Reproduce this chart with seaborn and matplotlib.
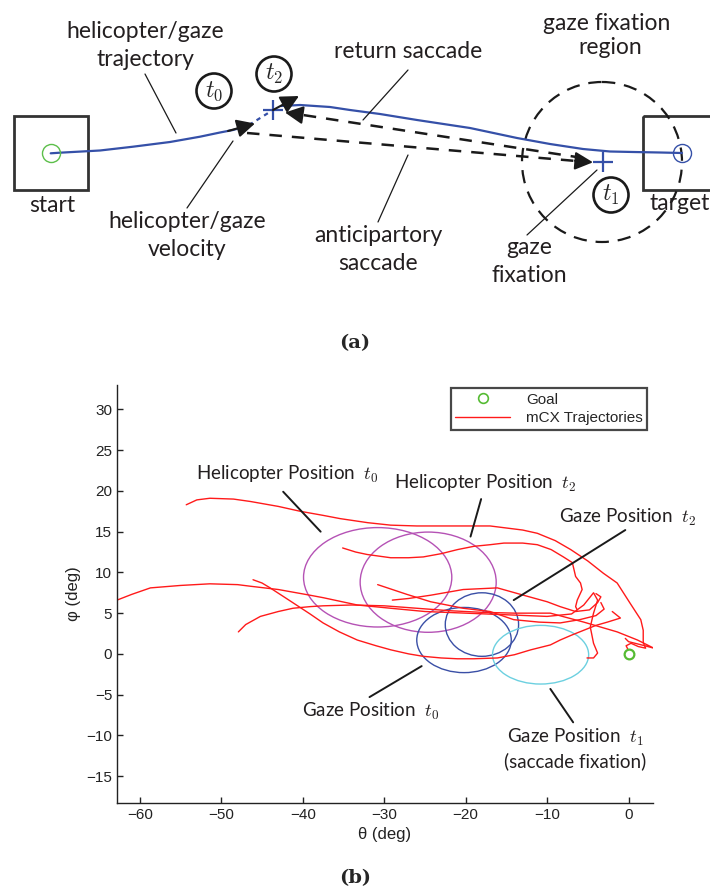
import numpy as np
import pandas as pd
import matplotlib
matplotlib.use("Agg")
import matplotlib.pyplot as plt
import seaborn as sns
from matplotlib.patches import Ellipse, Rectangle, Circle
from matplotlib.lines import Line2D

sns.set_theme(style="ticks")
plt.rcParams['font.family'] = ['Lato', 'DejaVu Sans']
plt.rcParams['mathtext.fontset'] = 'cm'

# ---------------- panel (b) data ----------------
A_theta = [-54.3, -53.0, -51.4, -48.5, -46.4, -43.0, -40.3, -37.5, -35.4, -32.0, -29.2, -26.0, -23.1, -20.0,
           -17.0, -15.4, -13.0, -11.2, -9.0, -7.1, -5.0, -3.1, -1.4, 0.2, 1.5, 1.8, 1.8, 2.1, 1.2, 0.3, -0.3, -0.1]
A_phi = [18.3, 18.9, 19.1, 19.0, 18.7, 18.1, 17.5, 17.0, 16.6, 16.1, 15.8, 15.7, 15.7, 15.7,
         15.7, 15.5, 15.2, 14.8, 13.9, 12.8, 11.4, 9.9, 8.7, 6.2, 4.2, 2.9, 1.4, 0.7, 0.9, 1.3, 1.0, 0.6]

B_theta = [-35.1, -33.5, -32.1, -29.2, -27.0, -25.2, -23.0, -21.0, -19.0, -17.0, -15.3, -13.0, -11.2,
           -9.5, -8.0, -6.9, -6.5, -5.9, -5.7, -6.3, -6.5, -6.3]
B_phi = [13.0, 12.5, 12.2, 11.8, 11.8, 11.9, 12.3, 12.8, 13.2, 13.4, 13.6, 13.6, 13.4,
         12.8, 11.9, 11.2, 9.5, 8.7, 7.9, 6.6, 5.8, 5.4]

C_theta = [-62.8, -61.0, -58.7, -55.0, -51.4, -48.0, -46.4, -43.0, -39.1, -37.5, -33.3, -29.2, -25.0,
           -20.0, -15.0, -10.0, -7.0, -5.5, -4.3, -3.8, -4.3, -4.7, -4.3, -3.8, -4.3, -5.1]
C_phi = [6.6, 7.3, 8.1, 8.4, 8.6, 8.5, 8.3, 7.9, 7.2, 6.9, 6.0, 5.6, 5.2,
         5.0, 4.8, 4.6, 4.9, 6.0, 7.5, 6.6, 5.0, 3.3, 1.3, 0.1, -0.5, -0.5]

D_theta = [-46.1, -45.0, -44.0, -42.0, -39.1, -37.5, -35.5, -33.3, -31.0, -29.2, -27.0, -25.2, -23.0,
           -21.0, -19.0, -16.1, -14.0, -12.0, -9.6, -8.4, -7.0, -5.5, -4.0, -2.6, -1.0, -2.0]
D_phi = [9.1, 8.7, 8.1, 6.8, 4.9, 3.8, 2.7, 1.7, 1.0, 0.5, 0.0, -0.3, -0.5,
         -0.6, -0.6, -0.5, -0.1, 0.5, 1.1, 1.7, 2.3, 2.9, 3.5, 3.9, 4.4, 5.2]

E_theta = [-47.9, -47.0, -45.2, -43.0, -41.2, -39.1, -37.5, -34.0, -30.0, -26.0, -22.0, -18.0, -14.0,
           -9.6, -5.5, -1.4, 1.1, 3.1, 2.0, 0.0, -0.4]
E_phi = [2.7, 3.6, 4.6, 5.2, 5.6, 5.8, 5.9, 6.0, 5.9, 5.6, 5.3, 5.1, 5.0,
         5.0, 3.9, 2.7, 1.7, 0.7, 1.0, 1.5, 1.9]

F_theta = [-30.8, -29.0, -27.2, -24.3, -20.3, -17.0, -14.1, -11.0, -8.4, -6.0, -4.0, -3.0, -3.4]
F_phi = [8.5, 7.9, 7.3, 6.4, 5.6, 5.2, 4.2, 3.9, 3.8, 4.2, 4.7, 5.5, 6.3]

G_theta = [-29.0, -27.0, -24.3, -20.3, -16.1, -12.9, -10.0, -8.4, -6.5, -4.8, -3.8, -3.4, -4.0]
G_phi = [6.6, 6.8, 7.2, 7.9, 8.1, 7.2, 6.4, 5.8, 5.2, 5.4, 6.3, 7.0, 7.4]

traj_names = ["A", "B", "C", "D", "E", "F", "G"]
traj_theta = [A_theta, B_theta, C_theta, D_theta, E_theta, F_theta, G_theta]
traj_phi = [A_phi, B_phi, C_phi, D_phi, E_phi, F_phi, G_phi]

ell_theta = [-30.8, -24.6, -20.2, -18.0, -10.8]
ell_phi = [9.4, 8.8, 1.7, 3.6, -0.1]
ell_width = [18.2, 16.7, 11.6, 9.0, 11.8]
ell_height = [12.2, 12.3, 8.0, 7.8, 7.2]
ell_colors = ["#b552b5", "#b552b5", "#3a4fa6", "#3a4fa6", "#6cd0e0"]

goal_theta = [0.0]
goal_phi = [0.0]

ann_text = ["Helicopter Position  $t_0$", "Helicopter Position  $t_2$", "Gaze Position  $t_2$",
            "Gaze Position  $t_0$", "Gaze Position  $t_1$\n(saccade fixation)"]
ann_text_xy = [(-41.9, 22.0), (-17.6, 20.9), (-0.1, 16.8), (-31.6, -7.0), (-6.5, -11.6)]
ann_line_start = [(-42.4, 19.9), (-18.1, 19.0), (-0.4, 15.2), (-31.8, -5.3), (-9.6, -4.3)]
ann_line_end = [(-37.8, 15.0), (-19.4, 14.4), (-14.1, 6.6), (-25.4, -1.5), (-6.8, -8.4)]

x_ticks = [-60, -50, -40, -30, -20, -10, 0]
y_ticks = [-15, -10, -5, 0, 5, 10, 15, 20, 25, 30]

# ---------------- panel (a) data (diagram coordinates, pixels) ----------------
traj_a_x = [50.7, 60, 100, 133, 170, 200, 220, 233, 247]
traj_a_y = [153.3, 152.7, 150.5, 146.7, 142, 136.7, 132.5, 130, 126]
dash_a_x = [249, 273]
dash_a_y = [125, 110]
ret_a_x = [281, 300, 330, 350, 380, 417, 470, 517, 550, 583, 610, 633, 660, 682]
ret_a_y = [106, 105, 107, 110, 114, 120, 128, 138, 144, 149, 151.5, 152, 152.5, 153]

fig = plt.figure(figsize=(7.10, 8.93), dpi=100)

# ================= panel (a) =================
axa = fig.add_axes([0, 1 - 360 / 893, 1, 360 / 893])
axa.set_xlim(0, 710)
axa.set_ylim(360, 0)
axa.axis('off')
blue = "#3550a8"
axa.add_patch(Rectangle((14, 116), 74, 74, fill=False, ec="#333333", lw=2))
axa.add_patch(Rectangle((643, 116), 74, 74, fill=False, ec="#333333", lw=2, clip_on=False))
axa.plot(traj_a_x, traj_a_y, color=blue, lw=1.6)
axa.plot(dash_a_x, dash_a_y, color=blue, lw=1.6, ls=(0, (2, 2)))
axa.plot(ret_a_x, ret_a_y, color=blue, lw=1.6)
axa.plot([50.7], [153.3], marker='o', ms=13, mfc='none', mec="#5cbf4a", mew=1)
axa.plot([682], [153], marker='o', ms=13, mfc='none', mec=blue, mew=1)
axa.plot([273, 603], [110, 162], ls='none', marker='+', ms=14, mec=blue, mew=1.6)
axa.add_patch(Circle((602, 162), 80, fill=False, ec='k', lw=1.6, ls=(0, (6, 4))))
# saccades (dashed) and arrowheads
axa.plot([247, 588], [133, 162], color='k', lw=1.8, ls=(0, (5, 4)))
axa.plot([583, 290], [158, 113], color='k', lw=1.8, ls=(0, (5, 4)))
ap = dict(arrowstyle='-|>,head_length=0.5,head_width=0.25', color='k', lw=1.5,
          mutation_scale=22, shrinkA=0, shrinkB=0)
axa.annotate('', xy=(593, 162.3), xytext=(575, 160.8), arrowprops=ap)
axa.annotate('', xy=(285, 112.5), xytext=(302, 115), arrowprops=ap)
axa.annotate('', xy=(255, 123.5), xytext=(228, 131), arrowprops=ap)
axa.annotate('', xy=(299, 96), xytext=(273, 110), arrowprops=ap)
for (cx, cy), lab in zip([(214, 91), (274, 74), (611, 195)], ["$t_0$", "$t_2$", "$t_1$"]):
    axa.add_patch(Circle((cx, cy), 17.5, fill=False, ec='k', lw=1.9))
    axa.text(cx, cy, lab, ha='center', va='center', fontsize=17)
tfs = 16.5
txtc = "#231f20"
axa.text(145, 32, "helicopter/gaze", ha='center', va='center', fontsize=tfs, color=txtc)
axa.text(145, 60, "trajectory", ha='center', va='center', fontsize=tfs, color=txtc)
axa.plot([145, 176], [74, 133], color='k', lw=0.9)
axa.text(52, 205, "start", ha='center', va='center', fontsize=tfs, color=txtc)
axa.text(187, 222, "helicopter/gaze", ha='center', va='center', fontsize=tfs, color=txtc)
axa.text(187, 249, "velocity", ha='center', va='center', fontsize=tfs, color=txtc)
axa.plot([187, 233], [208, 141], color='k', lw=0.9)
axa.text(408, 52, "return saccade", ha='center', va='center', fontsize=tfs, color=txtc)
axa.plot([408, 363], [70, 120], color='k', lw=0.9)
axa.text(378, 235, "anticipartory", ha='center', va='center', fontsize=tfs, color=txtc)
axa.text(378, 264, "saccade", ha='center', va='center', fontsize=tfs, color=txtc)
axa.plot([408, 378], [155, 222], color='k', lw=0.9)
axa.text(607, 23, "gaze fixation", ha='center', va='center', fontsize=tfs, color=txtc)
axa.text(610, 47, "region", ha='center', va='center', fontsize=tfs, color=txtc)
axa.text(529, 247, "gaze", ha='center', va='center', fontsize=tfs, color=txtc)
axa.text(529, 275, "fixation", ha='center', va='center', fontsize=tfs, color=txtc)
axa.plot([527, 597], [235, 170], color='k', lw=0.9)
axa.text(650, 203, "target", ha='left', va='center', fontsize=tfs, color=txtc)

fig.text(355 / 710, 1 - 343 / 893, "(a)", ha='center', va='center', fontsize=14,
         fontweight='bold', family=['DejaVu Serif'])

# ================= panel (b) =================
axb = fig.add_axes([117 / 710, 1 - 803 / 893, (653 - 117) / 710, (803 - 385) / 893])
rows = []
for name, th, ph in zip(traj_names, traj_theta, traj_phi):
    for i, (t, p) in enumerate(zip(th, ph)):
        rows.append((name, i, t, p))
df = pd.DataFrame(rows, columns=["traj", "order", "theta", "phi"])
sns.lineplot(data=df, x="theta", y="phi", units="traj", estimator=None, sort=False,
             color="#ff1a1a", lw=1.0, ax=axb, legend=False)

for cx, cy, w, h, c in zip(ell_theta, ell_phi, ell_width, ell_height, ell_colors):
    axb.add_patch(Ellipse((cx, cy), w, h, fill=False, ec=c, lw=1.0))

axb.plot(goal_theta, goal_phi, ls='none', marker='o', ms=7, mfc='none', mec="#55bb33", mew=1.6)

for txt, (tx, ty), (x0, y0), (x1, y1) in zip(ann_text, ann_text_xy, ann_line_start, ann_line_end):
    axb.plot([x0, x1], [y0, y1], color='#1a1a1a', lw=1.4, clip_on=False)
    axb.text(tx, ty, txt, ha='center', va='center', fontsize=13.5, color='#231f20',
             linespacing=1.25, clip_on=False)

axb.set_xlim(-62.8, 3.0)
axb.set_ylim(-18.3, 33.0)
axb.set_xticks(x_ticks)
axb.set_yticks(y_ticks)
sns.despine(ax=axb)
for s in ["left", "bottom"]:
    axb.spines[s].set_color("#222222")
    axb.spines[s].set_linewidth(1.0)
axb.tick_params(direction='in', length=4, width=1, colors="#222222", labelsize=11)
for lab in axb.get_xticklabels() + axb.get_yticklabels():
    lab.set_family(['Liberation Sans'])
axb.set_xlabel("θ (deg)", fontsize=12, family=['Liberation Sans'], color="#222222", labelpad=4)
axb.set_ylabel("φ (deg)", fontsize=12, family=['Liberation Sans'], color="#222222", labelpad=4)

handles = [Line2D([], [], ls='none', marker='o', ms=7, mfc='none', mec="#55bb33", mew=1.2),
           Line2D([], [], color="#ff1a1a", lw=1.0)]
leg = axb.legend(handles, ["Goal", "mCX Trajectories"], loc='upper right',
                 bbox_to_anchor=(0.989, 0.993), frameon=True, fancybox=False,
                 prop={'family': 'Liberation Sans', 'size': 11}, handlelength=3.6,
                 handletextpad=1.0, borderpad=0.3, labelspacing=0.3, borderaxespad=0)
leg.get_frame().set_edgecolor('k')
leg.get_frame().set_linewidth(1.6)

fig.text(355 / 710, 1 - 878 / 893, "(b)", ha='center', va='center', fontsize=14,
         fontweight='bold', family=['DejaVu Serif'])

fig.savefig("out.png", dpi=100)
